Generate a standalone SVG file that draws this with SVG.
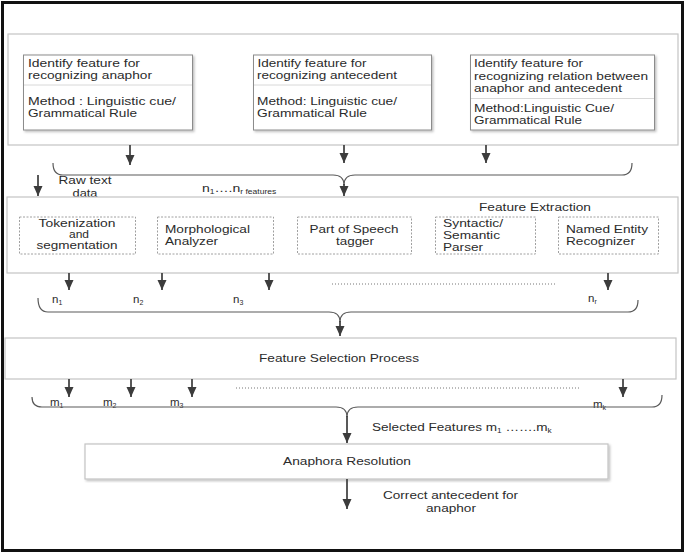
<svg xmlns="http://www.w3.org/2000/svg" width="685" height="554" viewBox="0 0 685 554">
<style>
text{font-family:"Liberation Sans",Arial,sans-serif;font-size:11.5px;fill:#2b2b2b}
.panel{fill:#fff;stroke:#c4c4c4;stroke-width:1.2}
.box{fill:#fff;stroke:#8c8c8c;stroke-width:1}
.div{stroke:#d8d8d8;stroke-width:1}
.dash{fill:#fff;stroke:#a0a0a0;stroke-width:1;stroke-dasharray:2,1.5}
.arr{stroke:#3c3c3c;stroke-width:1.7;fill:none;marker-end:url(#ah)}
.brace{stroke:#5a5a5a;stroke-width:1.2;fill:none}
.dot{stroke:#777;stroke-width:1;stroke-dasharray:1,2}
.sub{font-size:7px}
.mid{text-anchor:middle}
</style>
<defs>
<marker id="ah" markerUnits="userSpaceOnUse" markerWidth="12" markerHeight="10" refX="10" refY="5" orient="auto">
<path d="M0,0.5 L10,5 L0,9.5 Z" fill="#3c3c3c"/>
</marker>
<filter id="sh" x="-5%" y="-5%" width="110%" height="115%">
<feDropShadow dx="1.5" dy="1.5" stdDeviation="0.8" flood-color="#000" flood-opacity="0.25"/>
</filter>
</defs>
<rect x="0" y="0" width="685" height="554" fill="#fff"/>
<rect x="2.5" y="2.5" width="680" height="548" fill="none" stroke="#111" stroke-width="3"/>

<g id="top-panel">
<rect class="panel" x="8" y="34" width="670" height="111"/>
</g>
<g id="box-anaphor">
<rect class="box" x="23.5" y="55" width="169" height="75" filter="url(#sh)"/>
<line class="div" x1="24" y1="85" x2="192" y2="85"/>
<text x="28" y="67" textLength="112" lengthAdjust="spacingAndGlyphs">Identify feature for</text>
<text x="28" y="79" textLength="124" lengthAdjust="spacingAndGlyphs">recognizing anaphor</text>
<text x="28" y="105" textLength="148" lengthAdjust="spacingAndGlyphs">Method : Linguistic cue/</text>
<text x="28" y="117" textLength="109" lengthAdjust="spacingAndGlyphs">Grammatical Rule</text>
</g>
<g id="box-antecedent">
<rect class="box" x="253.5" y="55" width="178" height="75" filter="url(#sh)"/>
<line class="div" x1="254" y1="85" x2="431" y2="85"/>
<text x="257.5" y="67" textLength="109" lengthAdjust="spacingAndGlyphs">Identify feature for</text>
<text x="257" y="79" textLength="140" lengthAdjust="spacingAndGlyphs">recognizing antecedent</text>
<text x="257" y="105" textLength="140" lengthAdjust="spacingAndGlyphs">Method: Linguistic cue/</text>
<text x="257" y="117" textLength="110" lengthAdjust="spacingAndGlyphs">Grammatical Rule</text>
</g>
<g id="box-relation">
<rect class="box" x="470.5" y="55" width="184" height="75" filter="url(#sh)"/>
<line class="div" x1="471" y1="98.5" x2="654" y2="98.5"/>
<text x="474" y="67" textLength="109" lengthAdjust="spacingAndGlyphs">Identify feature for</text>
<text x="474" y="79.5" textLength="174" lengthAdjust="spacingAndGlyphs">recognizing relation between</text>
<text x="474" y="92" textLength="148" lengthAdjust="spacingAndGlyphs">anaphor and antecedent</text>
<text x="474" y="112" textLength="140" lengthAdjust="spacingAndGlyphs">Method:Linguistic Cue/</text>
<text x="474" y="123.5" textLength="108" lengthAdjust="spacingAndGlyphs">Grammatical Rule</text>
</g>

<g id="raw-text-label">
<text class="mid" x="85" y="184" textLength="53" lengthAdjust="spacingAndGlyphs">Raw text</text>
<text class="mid" x="85" y="197" textLength="25" lengthAdjust="spacingAndGlyphs">data</text>
</g>
<g id="n-features-label" transform="translate(202,192) scale(1.22,1)">
<text x="0" y="0">n<tspan class="sub" dy="2">1</tspan><tspan dy="-2">….n</tspan><tspan class="sub" dy="2">r features</tspan></text>
</g>

<g id="feature-extraction">
<rect class="panel" x="7" y="197" width="671" height="76"/>
<text x="479" y="210.5" textLength="112" lengthAdjust="spacingAndGlyphs">Feature Extraction</text>
</g>
<g id="tokenization">
<rect class="dash" x="19.5" y="217" width="116" height="37"/>
<text class="mid" x="77" y="227" textLength="77" lengthAdjust="spacingAndGlyphs">Tokenization</text>
<text class="mid" x="79" y="238" textLength="20" lengthAdjust="spacingAndGlyphs">and</text>
<text class="mid" x="77" y="249" textLength="81" lengthAdjust="spacingAndGlyphs">segmentation</text>
</g>
<g id="morphological">
<rect class="dash" x="157.5" y="217" width="116" height="37"/>
<text x="165" y="233" textLength="85" lengthAdjust="spacingAndGlyphs">Morphological</text>
<text x="165" y="245" textLength="53" lengthAdjust="spacingAndGlyphs">Analyzer</text>
</g>
<g id="pos-tagger">
<rect class="dash" x="297.5" y="217" width="114" height="37"/>
<text class="mid" x="354" y="233" textLength="89" lengthAdjust="spacingAndGlyphs">Part of Speech</text>
<text class="mid" x="355" y="245" textLength="38" lengthAdjust="spacingAndGlyphs">tagger</text>
</g>
<g id="parser">
<rect class="dash" x="435.5" y="217" width="100" height="37"/>
<text x="443" y="227" textLength="60" lengthAdjust="spacingAndGlyphs">Syntactic/</text>
<text x="443" y="239" textLength="57" lengthAdjust="spacingAndGlyphs">Semantic</text>
<text x="443" y="250.5" textLength="40" lengthAdjust="spacingAndGlyphs">Parser</text>
</g>
<g id="ner">
<rect class="dash" x="558.5" y="217" width="100" height="37"/>
<text x="566" y="233" textLength="82" lengthAdjust="spacingAndGlyphs">Named Entity</text>
<text x="566" y="245" textLength="69" lengthAdjust="spacingAndGlyphs">Recognizer</text>
</g>

<g id="n-labels">
<text x="52" y="303">n<tspan class="sub" dy="2">1</tspan></text>
<text x="133" y="303">n<tspan class="sub" dy="2">2</tspan></text>
<text x="233" y="303">n<tspan class="sub" dy="2">3</tspan></text>
<text x="588" y="302">n<tspan class="sub" dy="2">r</tspan></text>
</g>

<g id="feature-selection">
<rect class="panel" x="5" y="338" width="671" height="41"/>
<text class="mid" x="339" y="362" textLength="160" lengthAdjust="spacingAndGlyphs">Feature Selection Process</text>
</g>

<g id="m-labels">
<text x="50" y="406">m<tspan class="sub" dy="2">1</tspan></text>
<text x="103" y="406">m<tspan class="sub" dy="2">2</tspan></text>
<text x="170" y="406">m<tspan class="sub" dy="2">3</tspan></text>
<text x="593" y="408">m<tspan class="sub" dy="2">k</tspan></text>
</g>
<g id="selected-label" transform="translate(372,431) scale(1.18,1)">
<text x="0" y="0">Selected Features m<tspan class="sub" dy="2">1</tspan><tspan dy="-2"> …….m</tspan><tspan class="sub" dy="2">k</tspan></text>
</g>

<g id="anaphora-resolution">
<rect class="panel" x="85" y="444" width="523" height="35" filter="url(#sh)"/>
<text class="mid" x="347" y="465" textLength="128" lengthAdjust="spacingAndGlyphs">Anaphora Resolution</text>
</g>
<g id="output-label">
<text class="mid" x="450.5" y="499" textLength="135" lengthAdjust="spacingAndGlyphs">Correct antecedent for</text>
<text class="mid" x="451" y="512" textLength="50" lengthAdjust="spacingAndGlyphs">anaphor</text>
</g>

<g id="connectors">
<line class="arr" x1="130" y1="145" x2="130" y2="165"/>
<line class="arr" x1="344" y1="145" x2="344" y2="163"/>
<line class="arr" x1="486" y1="145" x2="486" y2="163"/>
<path class="brace" d="M53,163 Q53,175 63,175 L333,175 Q344,175 344,185 Q344,175 355,175 L622,175 Q632,175 632,163"/>
<line class="arr" x1="344" y1="184" x2="344" y2="196"/>
<line class="arr" x1="38" y1="175" x2="38" y2="196"/>

<line class="arr" x1="69" y1="273" x2="69" y2="290"/>
<line class="arr" x1="162" y1="273" x2="162" y2="290"/>
<line class="arr" x1="269" y1="273" x2="269" y2="290"/>
<line class="arr" x1="608" y1="273" x2="608" y2="290"/>
<line class="dot" x1="332" y1="284" x2="557" y2="284"/>
<path class="brace" d="M38,298 Q38,312 48,312 L329,312 Q340,312 340,322 Q340,312 351,312 L628,312 Q638,312 638,300"/>
<line class="arr" x1="340" y1="321" x2="340" y2="336"/>

<line class="arr" x1="69" y1="379" x2="69" y2="397"/>
<line class="arr" x1="131" y1="379" x2="131" y2="397"/>
<line class="arr" x1="192" y1="379" x2="192" y2="397"/>
<line class="arr" x1="623" y1="379" x2="623" y2="397"/>
<line class="dot" x1="236" y1="388" x2="580" y2="388"/>
<path class="brace" d="M32,397 Q32,407 42,407 L336,407 Q347,407 347,417 Q347,407 358,407 L652,407 Q662,407 662,395"/>
<line class="arr" x1="347" y1="416" x2="347" y2="443"/>

<line class="arr" x1="347" y1="479" x2="347" y2="509"/>
</g>
</svg>
